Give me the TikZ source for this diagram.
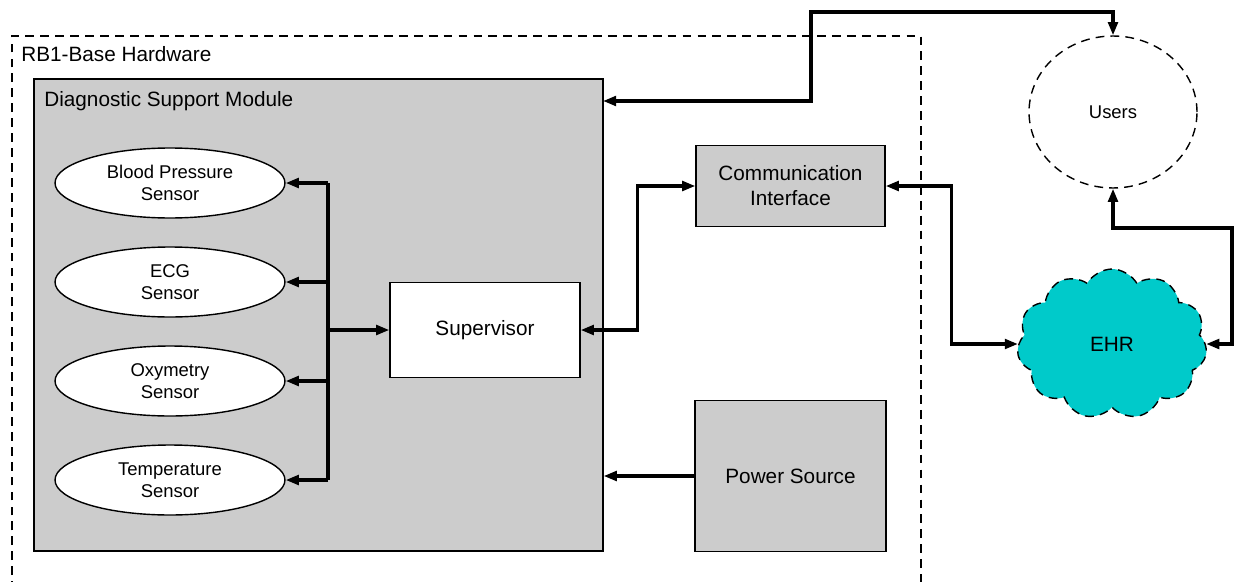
\documentclass[tikz,border=0pt]{standalone}
\usepackage{fontspec}
\setmainfont{Liberation Sans}
\usetikzlibrary{
    positioning,      % Relative positioning
    shapes.geometric, % Ellipses
    shapes.symbols,   % Cloud
    arrows.meta,      % Arrow tips
    calc              % Coordinate calculations
}
\definecolor{boxgray}{RGB}{204,204,204}
\definecolor{ehrcyan}{RGB}{0,202,202}
\tikzset{
    block/.style={draw, line width=0.8pt, fill=boxgray, align=center, inner sep=0pt,
        font=\fontsize{11.8}{14.2}\selectfont},
    sensor/.style={draw, ellipse, line width=0.8pt, fill=white, align=center, inner sep=0pt,
        minimum width=4.6cm, minimum height=1.4cm, font=\fontsize{10.5}{12.5}\selectfont},
    wire/.style={line width=1.8pt},
    onearrow/.style={wire, -{Triangle[length=7.5pt,width=5.5pt]}},
    twoarrow/.style={wire, {Triangle[length=7.5pt,width=5.5pt]}-{Triangle[length=7.5pt,width=5.5pt]}},
    dashline/.style={line width=0.8pt, dash pattern=on 5pt off 3.5pt}
}

\begin{document}
\begin{tikzpicture}[x=0.02cm,y=-0.02cm]
    \useasboundingbox (0,0) rectangle (1236,581);

    % hardware boundary
    \draw[dashline] (12,590) |- (921,36) -- (921,590);
    \node[anchor=base west, inner sep=0pt, font=\fontsize{11.8}{14}\selectfont] (hwlabel) at (21,62) {RB1-Base Hardware};

    % diagnostic support module
    \node[block, minimum width=11.38cm, minimum height=9.44cm] (dsm) at (318.5,315) {};
    \node[anchor=base west, inner sep=0pt, font=\fontsize{11.8}{14}\selectfont] (dsmlabel) at (44,107) {Diagnostic Support Module};

    % sensors
    \foreach \name/\txt [count=\i] in {bp/{Blood Pressure\\Sensor}, ecg/{ECG\\Sensor}, oxy/{Oxymetry\\Sensor}, temp/{Temperature\\Sensor}}
        \node[sensor] (\name) at (170,{183+(\i-1)*99}) {\txt};

    \node[block, fill=white, minimum width=3.8cm, minimum height=1.9cm] (sup) at (485,330) {Supervisor};
    \node[block, minimum width=3.78cm, minimum height=1.62cm] (comm) at (790.5,186) {Communication\\Interface};
    \node[block, minimum width=3.82cm, minimum height=3.02cm] (power) at (790.5,476) {Power Source};

    \node[ellipse, dashline, draw, inner sep=0pt, minimum width=3.36cm, minimum height=3.04cm,
        font=\fontsize{10.5}{12.5}\selectfont] (users) at (1113,112) {Users};
    \node[cloud, cloud puffs=11, cloud puff arc=120, aspect=1.3, dashline, draw, fill=ehrcyan, inner sep=0pt,
        minimum width=3.8cm, minimum height=3.0cm, font=\fontsize{11.8}{14}\selectfont] (ehr) at (1112,344) {EHR};

    % sensor bus
    \coordinate (bus) at (328,330);
    \draw[wire] (bp.east -| bus) -- (temp.east -| bus);
    \foreach \name in {bp, ecg, oxy, temp}
        \draw[onearrow] (\name.east -| bus) -- (\name.east);
    \draw[onearrow] (bus) -- (sup.west);

    % links
    \draw[twoarrow] (sup.east) -- ++(57,0) |- (comm.west);
    \draw[twoarrow] (comm.east) -- ++(66,0) |- (ehr.west);
    \draw[onearrow] (power.west) -- (power.west -| dsm.east);

    \coordinate (dsmin) at (603,101);
    \coordinate (usertop) at (811,12);
    \draw[twoarrow] (dsmin) -| (usertop) -| (users.north);

    \coordinate (ehrloop) at (1232,228);
    \draw[twoarrow] (users.south) |- (ehrloop) |- (ehr.east);
\end{tikzpicture}
\end{document}
